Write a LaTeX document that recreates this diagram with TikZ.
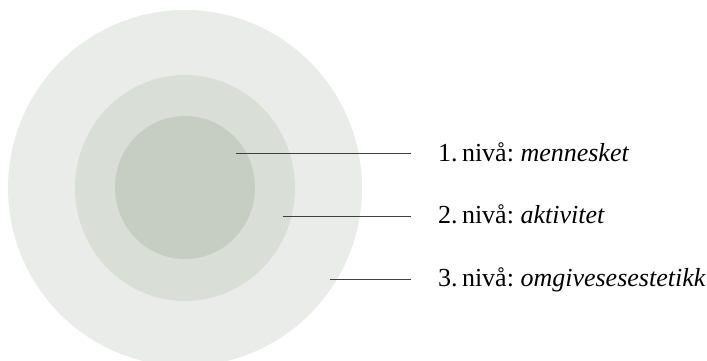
\documentclass[tikz,border=0pt]{standalone}
\usepackage{fontspec}
\setmainfont{Liberation Serif}
\usetikzlibrary{positioning}
\definecolor{ringouter}{HTML}{EAECE9}
\definecolor{ringmiddle}{HTML}{D9DED7}
\definecolor{ringinner}{HTML}{C6CEC3}
\begin{document}
\frenchspacing
\begin{tikzpicture}[
      x=1pt, y=-1pt,
      ring/.style={draw=none},
      label/.style={
         anchor=base west,
         inner sep=0pt,
         font=\fontsize{26}{30}\selectfont
      },
      leader/.style={draw=black!75, line width=1pt}
    ]
    \useasboundingbox (0,0) rectangle (707,361);
    \clip (0,0) rectangle (707,361);
    % levels
    \fill[ring, ringouter] (185,188) ellipse [x radius=177, y radius=178];
    \fill[ring, ringmiddle] (185,188) ellipse [x radius=110, y radius=113];
    \fill[ring, ringinner] (185,187.5) ellipse [x radius=70, y radius=71.5];
    % labels
    \node (l1) [label] at (438,161) {1.\,nivå: \textit{mennesket}};
    \node (l2) [label] at (438,223) {2.\,nivå: \textit{aktivitet}};
    \node (l3) [label] at (438,286) {3.\,nivå: \textit{omgivesesestetikk}};
    \coordinate (p1) at (236,153);
    \coordinate (p2) at (283,216);
    \coordinate (p3) at (330,279);
    \coordinate (e1) at (411,153);
    \coordinate (e2) at (411,216);
    \coordinate (e3) at (411,279);
    \draw[leader] (p1) -- (e1);
    \draw[leader] (p2) -- (e2);
    \draw[leader] (p3) -- (e3);
\end{tikzpicture}
\end{document}
